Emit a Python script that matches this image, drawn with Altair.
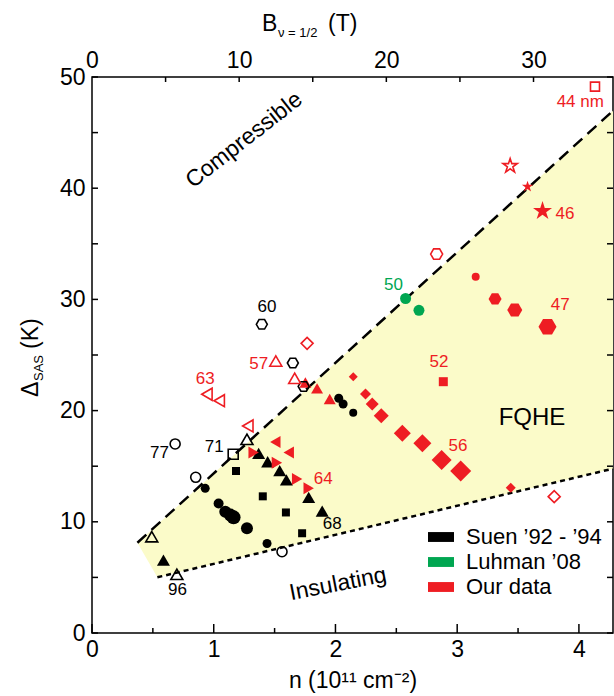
import altair as alt
import pandas as pd

# ---------------- data (n in 1e11 cm^-2, Delta_SAS in K) ----------------
SUEN = "Suen ’92 - ’94"
LUHMAN = "Luhman ’08"
OURS = "Our data"

# Suen '92-'94 (black), filled
suen_circle_n = [0.930, 1.040, 1.095, 1.136, 1.163, 1.273, 1.438, 2.027, 2.063, 2.146]
suen_circle_d = [13.01, 11.65, 10.91, 10.61, 10.40, 9.42, 8.05, 21.11, 20.59, 19.81]
suen_circle_w = [9, 10, 12, 13, 14, 12, 9, 9, 9, 8]
suen_square_n = [1.183, 1.403, 1.593, 1.726]
suen_square_d = [14.57, 12.29, 10.84, 8.97]
suen_tri_n = [0.587, 1.369, 1.443, 1.542, 1.597, 1.780, 1.891]
suen_tri_d = [6.56, 16.16, 15.40, 14.60, 13.76, 12.20, 10.97]
# Suen, open
suen_ocircle_n = [0.683, 0.852, 1.561]
suen_ocircle_d = [17.00, 14.00, 7.31]
suen_ohex_n = [1.395, 1.650, 1.739]
suen_ohex_d = [27.76, 24.28, 22.17]
suen_otri_n = [1.273, 0.491, 0.697]
suen_otri_d = [17.42, 8.66, 5.28]
suen_osquare_n = [1.160]
suen_osquare_d = [16.08]

# Luhman '08 (green)
luhman_n = [2.576, 2.686]
luhman_d = [30.08, 29.02]

# Our data (red), filled
ours_trileft_n = [1.506, 1.616]
ours_trileft_d = [17.18, 16.23]
ours_triright_n = [1.328, 1.519, 1.685, 1.780]
ours_triright_d = [16.23, 15.31, 13.85, 13.01]
ours_triup_n = [1.753, 1.849, 1.953]
ours_triup_d = [22.53, 22.00, 21.04]
ours_diamond_n = [2.146, 2.247, 2.302, 2.376, 2.549, 2.714, 2.872, 3.029, 3.440]
ours_diamond_d = [23.05, 21.49, 20.59, 19.54, 17.96, 17.06, 15.56, 14.57, 13.07]
ours_diamond_w = [9, 11, 13, 15, 17, 18, 20, 21, 10]
ours_square_n = [2.886]
ours_square_d = [22.60]
ours_circle_n = [3.152]
ours_circle_d = [32.04]
ours_hex_n = [3.311, 3.473, 3.742]
ours_hex_d = [30.04, 29.05, 27.54]
ours_hex_w = [13, 15, 18]
ours_star_n = [3.578, 3.701]
ours_star_d = [40.14, 37.95]
ours_star_w = [12, 20]
# Our data, open
ours_otrileft_n = [0.944, 1.045, 1.280]
ours_otrileft_d = [21.47, 20.89, 18.62]
ours_otriup_n = [1.510, 1.665]
ours_otriup_d = [24.46, 22.90]
ours_odiamond_n = [1.767, 3.797]
ours_odiamond_d = [26.05, 12.26]
ours_ohex_n = [2.831]
ours_ohex_d = [34.08]
ours_ostar_n = [3.435]
ours_ostar_d = [42.00]
ours_osquare_n = [4.132]
ours_osquare_d = [49.13]

# sample labels
label_text = ["60", "57", "63", "77", "71", "64", "68", "96", "52", "56", "47", "46", "44 nm", "50"]
label_n = [1.438, 1.369, 0.930, 0.554, 1.004, 1.899, 1.973, 0.702, 2.850, 3.007, 3.846, 3.885, 4.011, 2.477]
label_d = [29.29, 24.19, 22.81, 16.20, 16.73, 13.85, 9.80, 3.87, 24.40, 16.84, 29.50, 37.65, 47.78, 31.30]
label_src = [SUEN, OURS, OURS, SUEN, SUEN, OURS, SUEN, SUEN, OURS, OURS, OURS, OURS, OURS, LUHMAN]

# phase boundaries
upper_n = [0.373, 4.28]
upper_d = [8.12, 46.97]
lower_n = [0.537, 4.28]
lower_d = [5.01, 14.78]

# axis ticks
x_major = [0, 1, 2, 3, 4]
x_minor = [0.5, 1.5, 2.5, 3.5]
y_labels = [0, 10, 20, 30, 40, 50]
y_ticks = [0, 5, 10, 15, 20, 25, 30, 35, 40, 45, 50]
b_labels = [0, 10, 20, 30]
b_ticks = [5, 10, 15, 20, 25, 30]

# ---------------- styling ----------------
W, H = 521, 556
L, T = 92, 77
BF = 8.2713  # B(nu=1/2) in T per 1e11 cm^-2
FONT = "Liberation Sans"
RED = "#EE1D23"
GREEN = "#00A651"
YELLOW = "#FBFBC9"
HEX = "M-1,0L-0.5,-0.866L0.5,-0.866L1,0L0.5,0.866L-0.5,0.866Z"
STAR = ("M0,-1L0.225,-0.309L0.951,-0.309L0.363,0.118L0.588,0.809L0,0.382"
        "L-0.588,0.809L-0.363,0.118L-0.951,-0.309L-0.225,-0.309Z")

xs = alt.Scale(domain=[0, 4.28], nice=False, zero=False)
ys = alt.Scale(domain=[0, 50], nice=False, zero=False)
color_scale = alt.Scale(domain=[SUEN, LUHMAN, OURS], range=["black", GREEN, RED])
shape_scale = alt.Scale(
    domain=["circle", "square", "diamond", "triangle-up", "triangle-left", "triangle-right", "hexagon", "star"],
    range=["circle", "square", "diamond", "triangle-up", "triangle-left", "triangle-right", HEX, STAR])

rows = []


def add(src, marker, filled, ns, ds, ws):
    if not isinstance(ws, list):
        ws = [ws] * len(ns)
    for n, d, w in zip(ns, ds, ws):
        rows.append(dict(n=n, d=d, src=src, marker=marker, filled=filled, area=w * w))


add(SUEN, "circle", True, suen_circle_n, suen_circle_d, suen_circle_w)
add(SUEN, "square", True, suen_square_n, suen_square_d, 8)
add(SUEN, "triangle-up", True, suen_tri_n, suen_tri_d, 13)
add(SUEN, "circle", False, suen_ocircle_n, suen_ocircle_d, 10)
add(SUEN, "hexagon", False, suen_ohex_n, suen_ohex_d, 11)
add(SUEN, "triangle-up", False, suen_otri_n, suen_otri_d, 12)
add(SUEN, "square", False, suen_osquare_n, suen_osquare_d, 10)
add(LUHMAN, "circle", True, luhman_n, luhman_d, 11)
add(OURS, "triangle-left", True, ours_trileft_n, ours_trileft_d, 12)
add(OURS, "triangle-right", True, ours_triright_n, ours_triright_d, 12)
add(OURS, "triangle-up", True, ours_triup_n, ours_triup_d, 12)
add(OURS, "diamond", True, ours_diamond_n, ours_diamond_d, ours_diamond_w)
add(OURS, "square", True, ours_square_n, ours_square_d, 9)
add(OURS, "circle", True, ours_circle_n, ours_circle_d, 8)
add(OURS, "hexagon", True, ours_hex_n, ours_hex_d, ours_hex_w)
add(OURS, "star", True, ours_star_n, ours_star_d, ours_star_w)
add(OURS, "triangle-left", False, ours_otrileft_n, ours_otrileft_d, 12)
add(OURS, "triangle-up", False, ours_otriup_n, ours_otriup_d, 12)
add(OURS, "diamond", False, ours_odiamond_n, ours_odiamond_d, 12)
add(OURS, "hexagon", False, ours_ohex_n, ours_ohex_d, 12)
add(OURS, "star", False, ours_ostar_n, ours_ostar_d, 15)
add(OURS, "square", False, ours_osquare_n, ours_osquare_d, 9)

pts = pd.DataFrame(rows)

# shaded FQHE region
slope = (upper_d[1] - upper_d[0]) / (upper_n[1] - upper_n[0])
area_df = pd.DataFrame({
    "n": [upper_n[0], lower_n[0], lower_n[1]],
    "top": [upper_d[0], upper_d[0] + slope * (lower_n[0] - upper_n[0]), upper_d[1]],
    "bot": [upper_d[0], lower_d[0], lower_d[1]],
})

bottom_axis = alt.Axis(values=x_major, format="d", tickSize=0, domain=False, grid=False,
                       labelFontSize=23, labelFont=FONT, labelColor="black", labelPadding=5,
                       labelFlush=False, title="n (10¹¹ cm⁻²)", titleFont=FONT, titleFontSize=23,
                       titleFontWeight="normal", titleColor="black", titlePadding=8)
left_axis = alt.Axis(values=y_labels, format="d", tickSize=0, domain=False, grid=False,
                     labelFontSize=23, labelFont=FONT, labelColor="black", labelPadding=7,
                     labelFlush=False, title=None)
top_axis = alt.Axis(orient="top", values=[b / BF for b in b_labels],
                    labelExpr="format(datum.value*8.2713, '.0f')", tickSize=0, domain=False,
                    grid=False, labelFontSize=23, labelFont=FONT, labelColor="black",
                    labelPadding=5, labelFlush=False, title=None)

area = alt.Chart(area_df).mark_area(color=YELLOW, opacity=1).encode(
    x=alt.X("n:Q", scale=xs, axis=None),
    y=alt.Y("top:Q", scale=ys, axis=None),
    y2="bot:Q")

upper = alt.Chart(pd.DataFrame({"n": upper_n, "d": upper_d})).mark_line(
    color="black", strokeWidth=2.5, strokeDash=[12, 7]).encode(
    x=alt.X("n:Q", scale=xs, axis=None), y=alt.Y("d:Q", scale=ys, axis=None))
lower = alt.Chart(pd.DataFrame({"n": lower_n, "d": lower_d})).mark_line(
    color="black", strokeWidth=2.5, strokeDash=[5, 4]).encode(
    x=alt.X("n:Q", scale=xs, axis=None), y=alt.Y("d:Q", scale=ys, axis=None))

legend = alt.Legend(title=None, orient="none", legendX=336, legendY=447, padding=0,
                    symbolType="M-1,-0.38H1V0.38H-1Z", symbolSize=676, symbolStrokeWidth=0,
                    symbolOpacity=1, labelFont=FONT, labelFontSize=22, labelColor="black",
                    rowPadding=1, labelOffset=12)

filled = alt.Chart(pts[pts["filled"]]).mark_point(filled=True, opacity=1).encode(
    x=alt.X("n:Q", scale=xs, axis=bottom_axis),
    y=alt.Y("d:Q", scale=ys, axis=left_axis),
    color=alt.Color("src:N", scale=color_scale, legend=legend),
    shape=alt.Shape("marker:N", scale=shape_scale, legend=None),
    size=alt.Size("area:Q", scale=None, legend=None))

hollow = alt.Chart(pts[~pts["filled"]]).mark_point(filled=False, opacity=1, strokeWidth=1.6).encode(
    x=alt.X("n:Q", scale=xs, axis=None),
    y=alt.Y("d:Q", scale=ys, axis=None),
    color=alt.Color("src:N", scale=color_scale, legend=None),
    shape=alt.Shape("marker:N", scale=shape_scale, legend=None),
    size=alt.Size("area:Q", scale=None, legend=None))

labels = alt.Chart(pd.DataFrame({"t": label_text, "n": label_n, "d": label_d, "src": label_src})).mark_text(
    font=FONT, fontSize=17, align="center", baseline="middle").encode(
    x=alt.X("n:Q", scale=xs, axis=None), y=alt.Y("d:Q", scale=ys, axis=None),
    text="t:N", color=alt.Color("src:N", scale=color_scale, legend=None))

# tick marks (inward)
tick_color = "black"
lt = alt.Chart(pd.DataFrame({"v": y_ticks})).mark_rule(color=tick_color, strokeWidth=1.5).encode(
    y=alt.Y("v:Q", scale=ys, axis=None), x=alt.value(0), x2=alt.value(6))
rt = alt.Chart(pd.DataFrame({"v": y_ticks})).mark_rule(color=tick_color, strokeWidth=1.5).encode(
    y=alt.Y("v:Q", scale=ys, axis=None), x=alt.value(W), x2=alt.value(W - 6))
bmaj = alt.Chart(pd.DataFrame({"v": x_major})).mark_rule(color=tick_color, strokeWidth=1.5).encode(
    x=alt.X("v:Q", scale=xs, axis=None), y=alt.value(H), y2=alt.value(H - 9))
bmin = alt.Chart(pd.DataFrame({"v": x_minor})).mark_rule(color=tick_color, strokeWidth=1.5).encode(
    x=alt.X("v:Q", scale=xs, axis=None), y=alt.value(H), y2=alt.value(H - 5))
tt = alt.Chart(pd.DataFrame({"v": [b / BF for b in b_ticks]})).mark_rule(color=tick_color, strokeWidth=1.5).encode(
    x=alt.X("v:Q", scale=xs, axis=top_axis), y=alt.value(0), y2=alt.value(5))


def txt(s, ax, ay, size=23, angle=0, align="left", baseline="alphabetic", color="black"):
    kw = dict(font=FONT, fontSize=size, align=align, baseline=baseline, color=color, text=s)
    if angle:
        kw["angle"] = angle
    return alt.Chart(pd.DataFrame({"k": [0]})).mark_text(**kw).encode(
        x=alt.value(ax - L), y=alt.value(ay - T))


texts = [
    txt("B", 262, 31),
    txt("ν = 1/2", 278, 37, size=13),
    txt("(T)", 328, 31),
    txt("Δ", 38, 397, angle=270),
    txt("SAS", 43, 381, size=13, angle=270),
    txt("(K)", 38, 349, angle=270),
    txt("Compressible", 244, 140, size=23, angle=322, align="center", baseline="middle"),
    txt("Insulating", 338, 584, size=23, angle=349, align="center", baseline="middle"),
    txt("FQHE", 532, 418, size=24, align="center", baseline="middle"),
]

chart = alt.layer(area, upper, lower, lt, rt, bmaj, bmin, tt, filled, hollow, labels, *texts).properties(
    width=W, height=H,
    padding={"left": L, "top": T, "right": 614 - L - W, "bottom": 696 - T - H},
    autosize=alt.AutoSizeParams(type="none"),
    background="white",
).resolve_axis(x="independent", y="independent").configure_view(stroke="black", strokeWidth=1.5)

chart.save("out.html", embed_options={"renderer": "svg", "actions": False})
